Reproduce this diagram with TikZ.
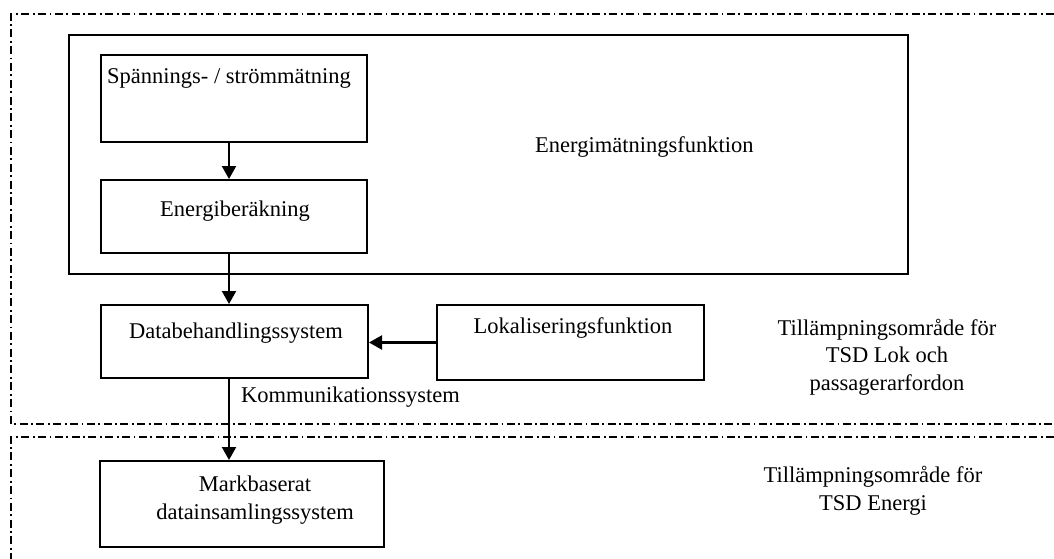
\documentclass[tikz,border=0pt]{standalone}
\usepackage{fontspec}
\setmainfont{Liberation Serif}
\usetikzlibrary{arrows.meta}
\begin{document}
\begin{tikzpicture}[x=1pt,y=-1pt,
  box/.style={draw, line width=2pt, inner sep=0pt, anchor=north west},
  txt/.style={inner sep=0pt, font=\fontsize{22.5}{27.5}\selectfont, align=center},
  arr/.style={line width=2.2pt, -{Triangle[length=13pt,width=14pt]}},
  zone/.style={line width=1.2pt, dash pattern=on 8pt off 3.5pt on 1.8pt off 3.5pt}]
\useasboundingbox (0,0) rectangle (1054,559);

% scope regions
\draw[zone] (1054,14) -- (11,14) -- (11,424) -- (1054,424);
\draw[zone] (1054,437) -- (11,437) -- (11,559);

% boxes
\node[box, minimum width=839pt, minimum height=239pt] (big) at (68,34) {};
\node[box, minimum width=266pt, minimum height=87pt] (spann) at (100,54) {};
\node[box, minimum width=266pt, minimum height=73pt] (energi) at (100,179) {};
\node[box, minimum width=267pt, minimum height=73pt] (databeh) at (100,304) {};
\node[box, minimum width=267pt, minimum height=75pt] (lok) at (436,304) {};
\node[box, minimum width=284pt, minimum height=86pt] (mark) at (99,460) {};

% texts
\node[txt, anchor=base] (tspann) at (229,84) {Spännings- / strömmätning};
\node[txt, anchor=base] (tenergi) at (235,216) {Energiberäkning};
\node[txt, anchor=base] (tdatabeh) at (236,338) {Databehandlingssystem};
\node[txt, anchor=base] (tlok) at (573,333) {Lokaliseringsfunktion};
\node[txt, anchor=base] (tmark) at (255,519) {Markbaserat\\datainsamlingssystem};
\node[txt, anchor=base west] (tbig) at (535,153) {Energimätningsfunktion};
\node[txt, anchor=base west] (tkomm) at (241,402) {Kommunikationssystem};
\node[txt, anchor=base] (tlokscope) at (887,390) {Tillämpningsområde för\\TSD Lok och\\passagerarfordon};
\node[txt, anchor=base] (tenscope) at (873,510) {Tillämpningsområde för\\TSD Energi};

% connectors
\coordinate (ax) at (229,0);
\draw[arr] (spann.south -| ax) -- (energi.north -| ax);
\draw[arr] (energi.south -| ax) -- (databeh.north -| ax);
\draw[arr] (databeh.south -| ax) -- (mark.north -| ax);
\draw[arr] (lok.west) -- (databeh.east |- lok.west);
\end{tikzpicture}
\end{document}
